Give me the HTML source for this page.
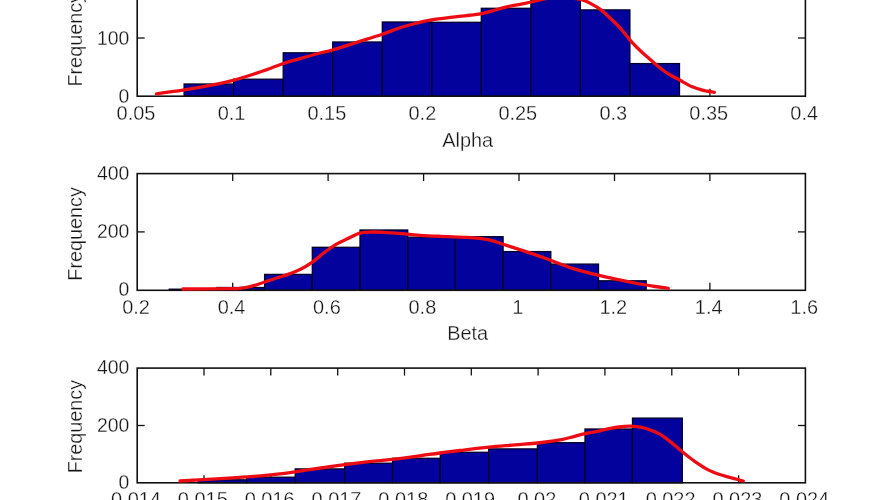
<!DOCTYPE html>
<html><head><meta charset="utf-8"><title>Histograms</title>
<style>
html,body{margin:0;padding:0;background:#fff;overflow:hidden}
svg{display:block}
text{font-family:"Liberation Sans",sans-serif;font-size:19.3px;fill:#161616;stroke:#fff;stroke-width:0.3px}
.xt,.yt,.yl,.xl{font-size:21px}
</style></head><body>
<svg width="887" height="500" viewBox="0 0 887 500">
<rect width="887" height="500" fill="#fff"/>
<line x1="232.7" y1="96.2" x2="232.7" y2="88.7" stroke="#111" stroke-width="1.3"/>
<line x1="232.7" y1="-20.2" x2="232.7" y2="-12.7" stroke="#111" stroke-width="1.3"/>
<line x1="328.1" y1="96.2" x2="328.1" y2="88.7" stroke="#111" stroke-width="1.3"/>
<line x1="328.1" y1="-20.2" x2="328.1" y2="-12.7" stroke="#111" stroke-width="1.3"/>
<line x1="423.6" y1="96.2" x2="423.6" y2="88.7" stroke="#111" stroke-width="1.3"/>
<line x1="423.6" y1="-20.2" x2="423.6" y2="-12.7" stroke="#111" stroke-width="1.3"/>
<line x1="519.0" y1="96.2" x2="519.0" y2="88.7" stroke="#111" stroke-width="1.3"/>
<line x1="519.0" y1="-20.2" x2="519.0" y2="-12.7" stroke="#111" stroke-width="1.3"/>
<line x1="614.5" y1="96.2" x2="614.5" y2="88.7" stroke="#111" stroke-width="1.3"/>
<line x1="614.5" y1="-20.2" x2="614.5" y2="-12.7" stroke="#111" stroke-width="1.3"/>
<line x1="709.9" y1="96.2" x2="709.9" y2="88.7" stroke="#111" stroke-width="1.3"/>
<line x1="709.9" y1="-20.2" x2="709.9" y2="-12.7" stroke="#111" stroke-width="1.3"/>
<line x1="137.2" y1="38.0" x2="144.7" y2="38.0" stroke="#111" stroke-width="1.3"/>
<line x1="805.4" y1="38.0" x2="797.9" y2="38.0" stroke="#111" stroke-width="1.3"/>
<rect x="184.1" y="84.0" width="49.5" height="12.2" fill="#04029c" stroke="#000028" stroke-width="1.3"/>
<rect x="233.6" y="79.2" width="49.5" height="17.0" fill="#04029c" stroke="#000028" stroke-width="1.3"/>
<rect x="283.2" y="52.8" width="49.5" height="43.4" fill="#04029c" stroke="#000028" stroke-width="1.3"/>
<rect x="332.7" y="42.0" width="49.5" height="54.2" fill="#04029c" stroke="#000028" stroke-width="1.3"/>
<rect x="382.3" y="22.0" width="49.5" height="74.2" fill="#04029c" stroke="#000028" stroke-width="1.3"/>
<rect x="431.8" y="22.3" width="49.5" height="73.9" fill="#04029c" stroke="#000028" stroke-width="1.3"/>
<rect x="481.3" y="8.3" width="49.5" height="87.9" fill="#04029c" stroke="#000028" stroke-width="1.3"/>
<rect x="530.9" y="-6.0" width="49.5" height="102.2" fill="#04029c" stroke="#000028" stroke-width="1.3"/>
<rect x="580.4" y="9.9" width="49.5" height="86.3" fill="#04029c" stroke="#000028" stroke-width="1.3"/>
<rect x="630.0" y="63.6" width="49.5" height="32.6" fill="#04029c" stroke="#000028" stroke-width="1.3"/>
<rect x="137.2" y="-20.2" width="668.2" height="116.4" fill="none" stroke="#111" stroke-width="1.6"/>
<path d="M156.4,93.8C161.1,93.2 174.8,91.4 184.4,89.9C194.0,88.4 205.9,86.2 214.0,84.6C222.1,83.0 226.5,82.2 233.2,80.4C239.9,78.6 247.9,76.0 254.0,74.0C260.1,72.0 265.2,70.2 270.0,68.5C274.8,66.8 279.5,65.0 282.8,63.8C286.1,62.6 287.1,62.2 290.0,61.3C292.9,60.4 295.0,60.0 300.0,58.6C305.0,57.2 314.6,54.4 320.0,53.0C325.4,51.6 326.2,51.8 332.4,50.0C338.6,48.2 348.8,44.9 357.0,42.3C365.2,39.7 374.4,36.9 381.6,34.5C388.8,32.1 394.4,29.6 400.0,27.8C405.6,26.0 409.7,24.8 415.0,23.5C420.3,22.2 424.9,21.0 431.6,19.9C438.3,18.8 447.3,17.8 455.2,16.8C463.1,15.9 473.1,15.1 478.9,14.2C484.7,13.3 486.1,12.6 490.0,11.6C493.9,10.6 498.4,9.0 502.6,7.9C506.8,6.8 511.1,6.0 515.0,5.2C519.0,4.4 522.1,4.1 526.3,3.2C530.5,2.3 535.2,1.0 540.0,0.0C544.8,-1.0 550.3,-2.6 555.0,-3.0C559.7,-3.4 563.4,-3.0 568.0,-2.5C572.6,-2.0 578.6,-1.1 582.5,0.0C586.4,1.1 588.1,2.2 591.1,3.8C594.1,5.4 597.5,7.2 600.7,9.6C603.9,12.0 607.1,15.3 610.3,18.3C613.5,21.4 616.8,24.3 620.0,27.9C623.2,31.4 626.8,36.3 629.6,39.6C632.4,42.9 634.4,44.9 637.0,47.5C639.6,50.1 642.5,52.8 645.0,55.0C647.5,57.2 649.8,59.1 652.0,61.0C654.2,62.9 656.0,64.5 658.0,66.2C660.0,67.9 661.7,69.4 664.0,71.0C666.3,72.6 669.4,74.5 672.0,76.0C674.6,77.5 676.3,78.2 679.6,80.0C682.9,81.8 687.8,84.9 691.6,86.6C695.4,88.3 698.6,89.2 702.4,90.2C706.2,91.2 712.4,92.0 714.4,92.3" fill="none" stroke="#ee0c14" stroke-width="3.3" stroke-linejoin="round" stroke-linecap="round"/>
<text class="xt" transform="translate(136.0,119.9) scale(0.95,1)" text-anchor="middle">0.05</text>
<text class="xt" transform="translate(231.5,119.9) scale(0.95,1)" text-anchor="middle">0.1</text>
<text class="xt" transform="translate(326.9,119.9) scale(0.95,1)" text-anchor="middle">0.15</text>
<text class="xt" transform="translate(422.4,119.9) scale(0.95,1)" text-anchor="middle">0.2</text>
<text class="xt" transform="translate(517.8,119.9) scale(0.95,1)" text-anchor="middle">0.25</text>
<text class="xt" transform="translate(613.3,119.9) scale(0.95,1)" text-anchor="middle">0.3</text>
<text class="xt" transform="translate(708.7,119.9) scale(0.95,1)" text-anchor="middle">0.35</text>
<text class="xt" transform="translate(804.2,119.9) scale(0.95,1)" text-anchor="middle">0.4</text>
<text class="yt" transform="translate(129.3,103.1) scale(0.924,1)" text-anchor="end">0</text>
<text class="yt" transform="translate(129.3,44.9) scale(0.924,1)" text-anchor="end">100</text>
<text class="yt" transform="translate(129.3,-13.3) scale(0.924,1)" text-anchor="end">200</text>
<text class="yl" transform="translate(82,39.8) rotate(-90) scale(0.943,1)" text-anchor="middle">Frequency</text>
<text class="xl" transform="translate(467.7,146.6) scale(0.948,1)" text-anchor="middle">Alpha</text>
<line x1="232.7" y1="290.3" x2="232.7" y2="282.8" stroke="#111" stroke-width="1.3"/>
<line x1="232.7" y1="173.6" x2="232.7" y2="181.1" stroke="#111" stroke-width="1.3"/>
<line x1="328.1" y1="290.3" x2="328.1" y2="282.8" stroke="#111" stroke-width="1.3"/>
<line x1="328.1" y1="173.6" x2="328.1" y2="181.1" stroke="#111" stroke-width="1.3"/>
<line x1="423.6" y1="290.3" x2="423.6" y2="282.8" stroke="#111" stroke-width="1.3"/>
<line x1="423.6" y1="173.6" x2="423.6" y2="181.1" stroke="#111" stroke-width="1.3"/>
<line x1="519.0" y1="290.3" x2="519.0" y2="282.8" stroke="#111" stroke-width="1.3"/>
<line x1="519.0" y1="173.6" x2="519.0" y2="181.1" stroke="#111" stroke-width="1.3"/>
<line x1="614.5" y1="290.3" x2="614.5" y2="282.8" stroke="#111" stroke-width="1.3"/>
<line x1="614.5" y1="173.6" x2="614.5" y2="181.1" stroke="#111" stroke-width="1.3"/>
<line x1="709.9" y1="290.3" x2="709.9" y2="282.8" stroke="#111" stroke-width="1.3"/>
<line x1="709.9" y1="173.6" x2="709.9" y2="181.1" stroke="#111" stroke-width="1.3"/>
<line x1="137.2" y1="231.9" x2="144.7" y2="231.9" stroke="#111" stroke-width="1.3"/>
<line x1="805.4" y1="231.9" x2="797.9" y2="231.9" stroke="#111" stroke-width="1.3"/>
<rect x="169.2" y="289.2" width="47.7" height="1.1" fill="#04029c" stroke="#000028" stroke-width="1.3"/>
<rect x="216.9" y="287.5" width="47.7" height="2.8" fill="#04029c" stroke="#000028" stroke-width="1.3"/>
<rect x="264.6" y="274.4" width="47.7" height="15.9" fill="#04029c" stroke="#000028" stroke-width="1.3"/>
<rect x="312.3" y="247.3" width="47.7" height="43.0" fill="#04029c" stroke="#000028" stroke-width="1.3"/>
<rect x="360.0" y="230.0" width="47.7" height="60.3" fill="#04029c" stroke="#000028" stroke-width="1.3"/>
<rect x="407.7" y="237.2" width="47.7" height="53.1" fill="#04029c" stroke="#000028" stroke-width="1.3"/>
<rect x="455.4" y="236.7" width="47.7" height="53.6" fill="#04029c" stroke="#000028" stroke-width="1.3"/>
<rect x="503.1" y="251.6" width="47.7" height="38.7" fill="#04029c" stroke="#000028" stroke-width="1.3"/>
<rect x="550.8" y="264.1" width="47.7" height="26.2" fill="#04029c" stroke="#000028" stroke-width="1.3"/>
<rect x="598.5" y="280.8" width="47.7" height="9.5" fill="#04029c" stroke="#000028" stroke-width="1.3"/>
<rect x="137.2" y="173.6" width="668.2" height="116.7" fill="none" stroke="#111" stroke-width="1.6"/>
<path d="M182.9,289.0C191.1,288.9 222.5,288.7 232.0,288.6C241.5,288.5 236.7,288.7 240.0,288.3C243.3,287.9 248.0,287.2 252.0,286.2C256.0,285.2 260.0,283.5 264.0,282.2C268.0,280.9 272.0,279.5 276.0,278.2C280.0,276.9 284.0,275.8 288.0,274.4C292.0,273.0 296.0,271.6 300.0,269.6C304.0,267.6 308.0,265.2 312.0,262.4C316.0,259.6 320.0,255.8 324.0,252.8C328.0,249.8 332.0,246.8 336.0,244.4C340.0,242.0 344.0,240.3 348.0,238.4C352.0,236.5 356.0,234.2 360.0,233.1C364.0,232.0 368.0,232.1 372.0,232.0C376.0,231.9 380.0,232.2 384.0,232.4C388.0,232.6 390.0,232.6 396.0,233.1C402.0,233.6 412.7,234.8 420.0,235.3C427.3,235.8 432.5,236.0 440.0,236.3C447.5,236.6 457.0,236.8 465.0,237.3C473.0,237.9 481.8,238.5 488.0,239.6C494.2,240.7 495.7,242.0 502.0,244.0C508.3,246.0 518.0,248.9 526.0,251.6C534.0,254.3 542.0,257.1 550.0,260.0C558.0,262.9 566.0,266.4 574.0,268.9C582.0,271.4 590.0,273.3 598.0,275.2C606.0,277.1 615.0,278.9 622.0,280.4C629.0,281.9 634.5,283.0 640.0,284.0C645.5,285.0 650.3,285.8 655.0,286.5C659.7,287.2 666.1,288.0 668.3,288.3" fill="none" stroke="#ee0c14" stroke-width="3.3" stroke-linejoin="round" stroke-linecap="round"/>
<text class="xt" transform="translate(136.0,314.0) scale(0.95,1)" text-anchor="middle">0.2</text>
<text class="xt" transform="translate(231.5,314.0) scale(0.95,1)" text-anchor="middle">0.4</text>
<text class="xt" transform="translate(326.9,314.0) scale(0.95,1)" text-anchor="middle">0.6</text>
<text class="xt" transform="translate(422.4,314.0) scale(0.95,1)" text-anchor="middle">0.8</text>
<text class="xt" transform="translate(517.8,314.0) scale(0.95,1)" text-anchor="middle">1</text>
<text class="xt" transform="translate(613.3,314.0) scale(0.95,1)" text-anchor="middle">1.2</text>
<text class="xt" transform="translate(708.7,314.0) scale(0.95,1)" text-anchor="middle">1.4</text>
<text class="xt" transform="translate(804.2,314.0) scale(0.95,1)" text-anchor="middle">1.6</text>
<text class="yt" transform="translate(129.3,296.4) scale(0.924,1)" text-anchor="end">0</text>
<text class="yt" transform="translate(129.3,238.0) scale(0.924,1)" text-anchor="end">200</text>
<text class="yt" transform="translate(129.3,179.7) scale(0.924,1)" text-anchor="end">400</text>
<text class="yl" transform="translate(82,233.9) rotate(-90) scale(0.943,1)" text-anchor="middle">Frequency</text>
<text class="xl" transform="translate(467.7,339.9) scale(0.948,1)" text-anchor="middle">Beta</text>
<line x1="204.0" y1="482.8" x2="204.0" y2="475.3" stroke="#111" stroke-width="1.3"/>
<line x1="204.0" y1="368.1" x2="204.0" y2="375.6" stroke="#111" stroke-width="1.3"/>
<line x1="270.8" y1="482.8" x2="270.8" y2="475.3" stroke="#111" stroke-width="1.3"/>
<line x1="270.8" y1="368.1" x2="270.8" y2="375.6" stroke="#111" stroke-width="1.3"/>
<line x1="337.7" y1="482.8" x2="337.7" y2="475.3" stroke="#111" stroke-width="1.3"/>
<line x1="337.7" y1="368.1" x2="337.7" y2="375.6" stroke="#111" stroke-width="1.3"/>
<line x1="404.5" y1="482.8" x2="404.5" y2="475.3" stroke="#111" stroke-width="1.3"/>
<line x1="404.5" y1="368.1" x2="404.5" y2="375.6" stroke="#111" stroke-width="1.3"/>
<line x1="471.3" y1="482.8" x2="471.3" y2="475.3" stroke="#111" stroke-width="1.3"/>
<line x1="471.3" y1="368.1" x2="471.3" y2="375.6" stroke="#111" stroke-width="1.3"/>
<line x1="538.1" y1="482.8" x2="538.1" y2="475.3" stroke="#111" stroke-width="1.3"/>
<line x1="538.1" y1="368.1" x2="538.1" y2="375.6" stroke="#111" stroke-width="1.3"/>
<line x1="604.9" y1="482.8" x2="604.9" y2="475.3" stroke="#111" stroke-width="1.3"/>
<line x1="604.9" y1="368.1" x2="604.9" y2="375.6" stroke="#111" stroke-width="1.3"/>
<line x1="671.8" y1="482.8" x2="671.8" y2="475.3" stroke="#111" stroke-width="1.3"/>
<line x1="671.8" y1="368.1" x2="671.8" y2="375.6" stroke="#111" stroke-width="1.3"/>
<line x1="738.6" y1="482.8" x2="738.6" y2="475.3" stroke="#111" stroke-width="1.3"/>
<line x1="738.6" y1="368.1" x2="738.6" y2="375.6" stroke="#111" stroke-width="1.3"/>
<line x1="137.2" y1="425.5" x2="144.7" y2="425.5" stroke="#111" stroke-width="1.3"/>
<line x1="805.4" y1="425.5" x2="797.9" y2="425.5" stroke="#111" stroke-width="1.3"/>
<rect x="198.3" y="479.8" width="48.4" height="3.0" fill="#04029c" stroke="#000028" stroke-width="1.3"/>
<rect x="246.7" y="477.2" width="48.5" height="5.6" fill="#04029c" stroke="#000028" stroke-width="1.3"/>
<rect x="295.2" y="468.9" width="49.5" height="13.9" fill="#04029c" stroke="#000028" stroke-width="1.3"/>
<rect x="344.7" y="463.2" width="47.9" height="19.6" fill="#04029c" stroke="#000028" stroke-width="1.3"/>
<rect x="392.6" y="458.3" width="47.7" height="24.5" fill="#04029c" stroke="#000028" stroke-width="1.3"/>
<rect x="440.3" y="452.3" width="48.4" height="30.5" fill="#04029c" stroke="#000028" stroke-width="1.3"/>
<rect x="488.7" y="448.9" width="48.7" height="33.9" fill="#04029c" stroke="#000028" stroke-width="1.3"/>
<rect x="537.4" y="442.7" width="47.6" height="40.1" fill="#04029c" stroke="#000028" stroke-width="1.3"/>
<rect x="585.0" y="429.0" width="47.5" height="53.8" fill="#04029c" stroke="#000028" stroke-width="1.3"/>
<rect x="632.5" y="418.1" width="49.8" height="64.7" fill="#04029c" stroke="#000028" stroke-width="1.3"/>
<rect x="137.2" y="368.1" width="668.2" height="114.7" fill="none" stroke="#111" stroke-width="1.6"/>
<path d="M180.0,481.0C186.8,480.6 208.9,479.3 220.7,478.6C232.5,477.9 242.3,477.4 251.0,476.7C259.7,476.0 265.7,475.4 273.0,474.6C280.3,473.8 287.0,472.9 295.0,471.8C303.0,470.7 312.7,469.2 321.0,468.0C329.3,466.8 337.0,465.7 345.0,464.6C353.0,463.5 361.1,462.5 369.0,461.6C376.9,460.7 383.8,460.4 392.6,459.4C401.4,458.4 414.1,456.6 422.0,455.5C429.9,454.4 433.7,453.8 440.0,453.0C446.3,452.2 451.9,451.5 460.0,450.5C468.1,449.5 479.5,448.0 488.7,447.1C497.9,446.2 506.9,445.6 515.0,444.9C523.1,444.2 531.6,443.6 537.4,443.0C543.2,442.4 546.0,442.0 550.0,441.4C554.0,440.8 557.9,440.4 561.7,439.6C565.5,438.8 569.1,437.8 573.0,436.8C576.9,435.8 581.0,434.6 585.0,433.7C589.0,432.8 593.2,432.2 597.0,431.4C600.8,430.6 604.3,429.6 608.0,428.9C611.7,428.2 615.4,427.4 619.0,427.0C622.6,426.6 626.7,426.3 629.7,426.2C632.7,426.1 634.6,426.3 637.0,426.6C639.4,426.9 641.8,427.4 644.1,428.0C646.4,428.6 648.6,429.3 651.0,430.2C653.4,431.1 656.2,432.2 658.5,433.4C660.8,434.6 662.9,436.1 665.0,437.6C667.1,439.1 669.2,440.8 671.2,442.4C673.2,444.0 675.0,445.6 677.0,447.3C679.0,449.0 681.0,450.7 682.9,452.3C684.8,453.9 686.5,455.3 688.5,456.8C690.5,458.3 692.5,459.8 694.6,461.3C696.7,462.8 698.9,464.2 701.0,465.6C703.1,467.0 705.1,468.3 707.2,469.4C709.3,470.5 711.4,471.3 713.5,472.2C715.6,473.1 717.8,473.8 719.9,474.5C722.0,475.2 723.9,475.8 726.0,476.4C728.1,477.0 730.5,477.6 732.5,478.1C734.5,478.6 736.2,479.1 738.0,479.6C739.8,480.1 742.4,480.8 743.3,481.0" fill="none" stroke="#ee0c14" stroke-width="3.3" stroke-linejoin="round" stroke-linecap="round"/>
<text class="xt" transform="translate(136.0,505.5) scale(0.95,1)" text-anchor="middle">0.014</text>
<text class="xt" transform="translate(202.8,505.5) scale(0.95,1)" text-anchor="middle">0.015</text>
<text class="xt" transform="translate(269.6,505.5) scale(0.95,1)" text-anchor="middle">0.016</text>
<text class="xt" transform="translate(336.5,505.5) scale(0.95,1)" text-anchor="middle">0.017</text>
<text class="xt" transform="translate(403.3,505.5) scale(0.95,1)" text-anchor="middle">0.018</text>
<text class="xt" transform="translate(470.1,505.5) scale(0.95,1)" text-anchor="middle">0.019</text>
<text class="xt" transform="translate(536.9,505.5) scale(0.95,1)" text-anchor="middle">0.02</text>
<text class="xt" transform="translate(603.7,505.5) scale(0.95,1)" text-anchor="middle">0.021</text>
<text class="xt" transform="translate(670.6,505.5) scale(0.95,1)" text-anchor="middle">0.022</text>
<text class="xt" transform="translate(737.4,505.5) scale(0.95,1)" text-anchor="middle">0.023</text>
<text class="xt" transform="translate(804.2,505.5) scale(0.95,1)" text-anchor="middle">0.024</text>
<text class="yt" transform="translate(129.3,488.9) scale(0.924,1)" text-anchor="end">0</text>
<text class="yt" transform="translate(129.3,431.6) scale(0.924,1)" text-anchor="end">200</text>
<text class="yt" transform="translate(129.3,374.2) scale(0.924,1)" text-anchor="end">400</text>
<text class="yl" transform="translate(82,426.6) rotate(-90) scale(0.943,1)" text-anchor="middle">Frequency</text>
</svg>
</body></html>
